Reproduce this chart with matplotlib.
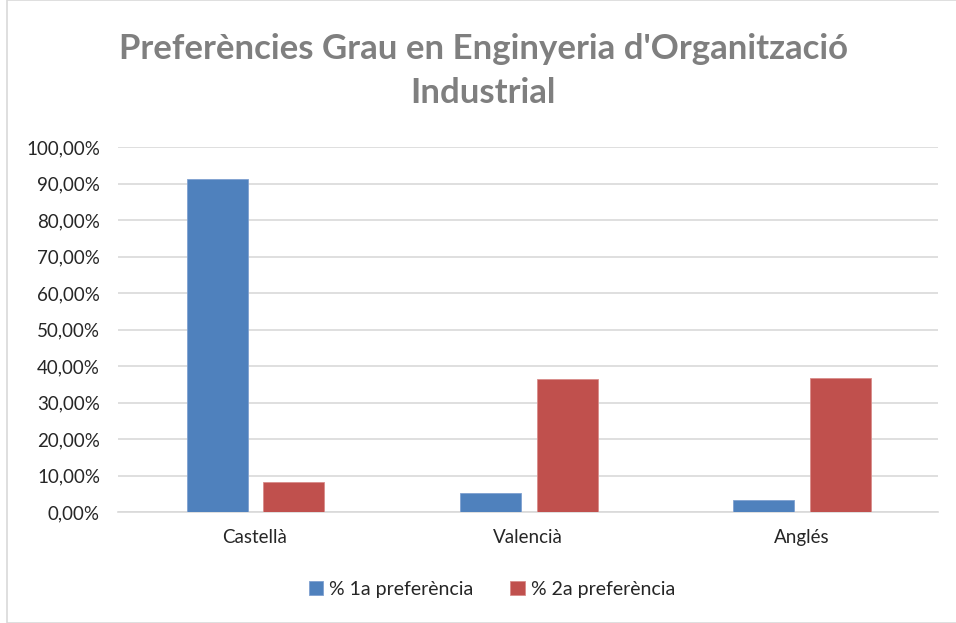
import matplotlib.pyplot as plt
import numpy as np
from matplotlib.patches import Rectangle

plt.rcParams['font.family'] = ['Lato', 'DejaVu Sans']

# data
categories = ["Castellà", "Valencià", "Anglés"]
pref1 = [91.2, 5.2, 3.3]
pref2 = [8.2, 36.4, 36.7]
series_names = ["% 1a preferència", "% 2a preferència"]
colors = ["#4f81bd", "#c0504d"]

fig = plt.figure(figsize=(9.56, 6.23), dpi=100)
ax = fig.add_axes([118 / 956, 1 - 512 / 623, 820 / 956, 365 / 623])

x = np.arange(len(categories))
w = 0.223
ax.bar(x - 0.137, pref1, w, color=colors[0], edgecolor="#7fa1d0", linewidth=0.6,
       label=series_names[0], zorder=3)
ax.bar(x + 0.143, pref2, w, color=colors[1], edgecolor="#d98c8a", linewidth=0.6,
       label=series_names[1], zorder=3)

ax.set_xlim(-0.5, 2.5)
ax.set_ylim(0, 100)
ax.set_yticks(np.arange(0, 101, 10))
ax.set_yticklabels([f"{v},00%" for v in range(0, 101, 10)])
ax.set_xticks(x)
ax.set_xticklabels(categories)
ax.tick_params(axis="both", length=0, labelsize=13.5, colors="#262626")
ax.tick_params(axis="y", pad=13)
ax.tick_params(axis="x", pad=12)
ax.grid(axis="y", color="#d9d9d9", linewidth=1.2, zorder=0)
for s in ["top", "right", "left"]:
    ax.spines[s].set_visible(False)
ax.spines["bottom"].set_color("#d9d9d9")
ax.spines["bottom"].set_linewidth(1.2)

fig.text(483 / 956, 1 - 71 / 623, "Preferències Grau en Enginyeria d'Organització\nIndustrial",
         ha="center", va="center", fontsize=25, fontweight="bold", color="#7f7f7f",
         linespacing=1.45)

fig.legend(loc="center", bbox_to_anchor=(492 / 956, 1 - 589 / 623), ncol=2,
           frameon=False, fontsize=14, handlelength=0.75, handleheight=0.75,
           columnspacing=1.9, handletextpad=0.3, labelcolor="#262626")

fig.add_artist(Rectangle((7 / 956, 0), 1, 1, transform=fig.transFigure, fill=False,
                         edgecolor="#d9d9d9", linewidth=1.2))

fig.savefig("out.png", dpi=100)
